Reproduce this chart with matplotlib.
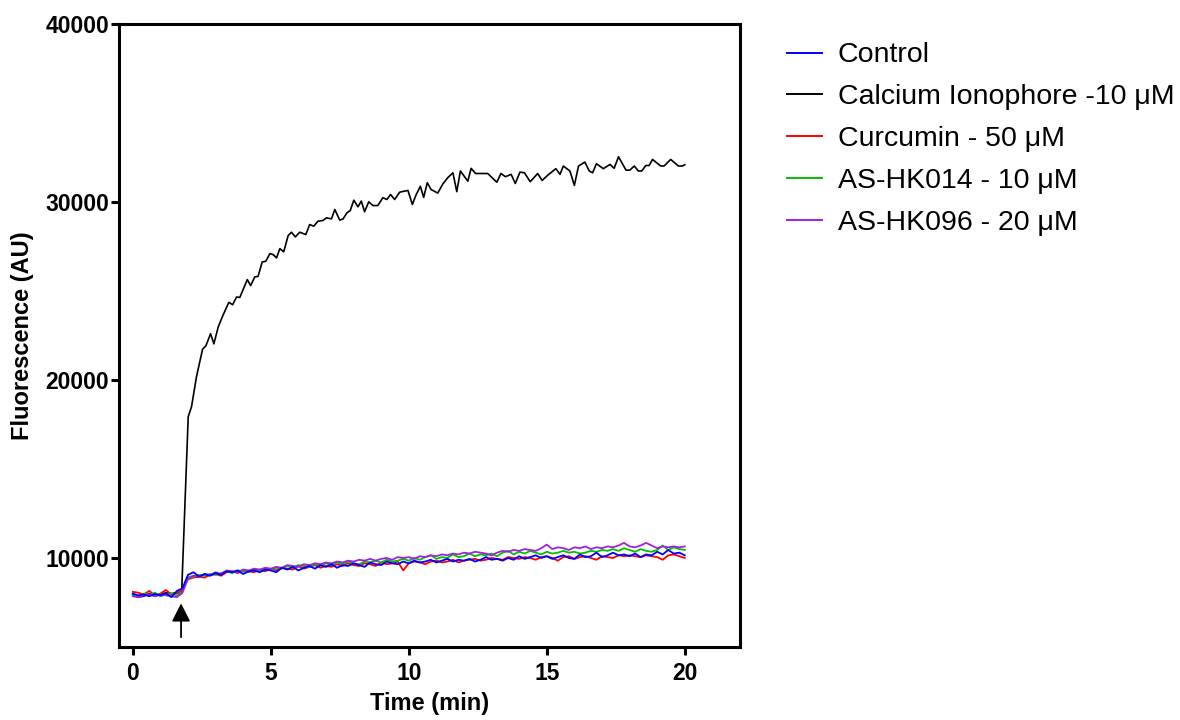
import numpy as np
import matplotlib
matplotlib.use("Agg")
import matplotlib.pyplot as plt
from matplotlib.lines import Line2D

plt.rcParams["font.family"] = ["Liberation Sans", "DejaVu Sans"]

# sampling times (min) of the four low-response traces
TIME = np.linspace(0, 20, 101)

CONTROL = [
    8000, 7900, 7950, 7850, 7980, 7900, 8020, 7800, 8150, 8300,
    9050, 9200, 8950, 9100, 9000, 9150, 9050, 9250, 9200, 9300,
    9100, 9250, 9300, 9200, 9350, 9300, 9200, 9450, 9350, 9500,
    9300, 9450, 9550, 9400, 9600, 9500, 9650, 9450, 9600, 9550,
    9700, 9600, 9500, 9750, 9650, 9600, 9800, 9700, 9650, 9800,
    9700, 9850, 9750, 9800, 9900, 9750, 9850, 9950, 9800, 9900,
    9850, 9950, 9800, 9900, 10050, 9900, 9950, 9850, 10000, 9900,
    10100, 9950, 10050, 10150, 10000, 10100, 9950, 10050, 10150, 10000,
    9950, 10200, 10050, 10100, 10300, 10050, 10150, 10300, 10150, 10200,
    10100, 10250, 10050, 10200, 10150, 10350, 10200, 10450, 10250, 10300,
    10150,
]
CURCUMIN = [
    8100, 8050, 7950, 8150, 7900, 8000, 8200, 7950, 8050, 8200,
    8800, 8900, 8950, 8900, 9050, 9100, 9000, 9200, 9250, 9150,
    9300, 9250, 9200, 9350, 9250, 9400, 9300, 9450, 9400, 9350,
    9550, 9400, 9500, 9600, 9450, 9550, 9500, 9650, 9550, 9700,
    9600, 9550, 9700, 9650, 9550, 9750, 9650, 9700, 9800, 9300,
    9700, 9800, 9750, 9650, 9800, 9850, 9750, 9800, 9900, 9750,
    9850, 9900, 9950, 9850, 9900, 10000, 9950, 9900, 10050, 10000,
    9950, 10050, 10000, 9900, 10050, 10100, 10000, 9850, 10050, 10100,
    9950, 10050, 10100, 10000, 9900, 10100, 10050, 10000, 10150, 10100,
    10150, 10100, 10050, 10150, 10100, 10050, 9900, 10150, 10200, 10100,
    10000,
]
HK014 = [
    7950, 7850, 8000, 7900, 8050, 7850, 7950, 8000, 7900, 8100,
    8850, 8950, 9050, 9000, 9100, 9050, 9150, 9250, 9150, 9300,
    9250, 9200, 9350, 9300, 9400, 9350, 9450, 9400, 9550, 9450,
    9600, 9550, 9500, 9650, 9550, 9700, 9600, 9750, 9650, 9800,
    9700, 9650, 9800, 9750, 9850, 9750, 9900, 9800, 9850, 9950,
    9850, 10000, 9900, 10050, 10150, 9950, 10050, 10000, 10200, 10050,
    10100, 10250, 10100, 10200, 10150, 10250, 10100, 10300, 10400, 10200,
    10350, 10250, 10400, 10300, 10200, 10350, 10250, 10300, 10400, 10300,
    10350, 10250, 10300, 10400, 10350, 10450, 10400, 10500, 10400, 10550,
    10450, 10350, 10500, 10400, 10350, 10450, 10700, 10450, 10600, 10500,
    10450,
]
HK096 = [
    7850, 7800, 7900, 7950, 7850, 7950, 7900, 7850, 7800, 8050,
    8900, 9000, 8950, 9100, 9050, 9200, 9100, 9300, 9250, 9200,
    9350, 9300, 9400, 9350, 9450, 9400, 9500, 9450, 9600, 9550,
    9500, 9650, 9600, 9700, 9650, 9750, 9700, 9800, 9750, 9850,
    9800, 9900, 9850, 9950, 9850, 9950, 10000, 9900, 10050, 10000,
    10050, 9950, 10100, 10050, 10150, 10100, 10200, 10150, 10250, 10200,
    10300, 10250, 10350, 10300, 10250, 10150, 10300, 10400, 10350, 10450,
    10400, 10500, 10450, 10400, 10550, 10750, 10500, 10600, 10550, 10450,
    10600, 10550, 10650, 10500, 10600, 10550, 10650, 10600, 10700, 10850,
    10650, 10600, 10700, 10850, 10700, 10550, 10650, 10600, 10650, 10600,
    10650,
]

# calcium ionophore trace, vertices
IONO_TIME = [
    0, 0.2, 0.4, 0.6, 0.8, 1.0, 1.2, 1.4, 1.6, 1.77,
    2.01, 2.13, 2.31, 2.53, 2.65, 2.82, 2.94, 3.10, 3.28, 3.48,
    3.62, 3.76, 3.88, 4.15, 4.27, 4.42, 4.54, 4.69, 4.82, 4.97,
    5.09, 5.21, 5.33, 5.47, 5.63, 5.75, 5.89, 6.05, 6.27, 6.41,
    6.56, 6.71, 6.89, 7.02, 7.20, 7.32, 7.50, 7.62, 7.76, 7.88,
    8.01, 8.16, 8.28, 8.40, 8.55, 8.70, 8.88, 9.06, 9.21, 9.34,
    9.49, 9.67, 9.97, 10.13, 10.27, 10.42, 10.54, 10.67, 10.81, 11.05,
    11.23, 11.41, 11.60, 11.74, 11.87, 12.14, 12.26, 12.42, 12.86, 13.19,
    13.34, 13.50, 13.71, 13.86, 14.03, 14.19, 14.40, 14.67, 14.83, 15.07,
    15.33, 15.48, 15.60, 15.84, 16.00, 16.15, 16.38, 16.54, 16.66, 16.80,
    17.05, 17.29, 17.44, 17.60, 17.87, 18.01, 18.17, 18.32, 18.44, 18.59,
    18.71, 18.83, 19.13, 19.25, 19.49, 19.77, 19.91, 20.0,
]
IONO = [
    7950, 7800, 7850, 8000, 7850, 7950, 8050, 8000, 8050, 8000,
    17940, 18500, 20190, 21730, 21920, 22600, 22030, 23000, 23670, 24360,
    24230, 24660, 24640, 25640, 25300, 25790, 25820, 26630, 26670, 27100,
    27040, 26860, 27380, 27200, 28110, 28300, 28040, 28300, 28170, 28730,
    28640, 28920, 28960, 29110, 29050, 29580, 28980, 29050, 29390, 29520,
    30100, 29730, 30050, 29450, 30010, 29800, 29800, 30240, 30140, 30420,
    30140, 30550, 30650, 29860, 30420, 30880, 30260, 31080, 30700, 30500,
    31000, 31360, 31640, 30580, 31740, 31170, 31890, 31600, 31600, 31110,
    31600, 31420, 31550, 31040, 31680, 31640, 31140, 31600, 31210, 31550,
    31870, 31550, 32020, 31740, 30930, 32020, 32240, 31740, 31640, 32150,
    31870, 32110, 31890, 32540, 31790, 31790, 32020, 31740, 31740, 32050,
    32050, 32390, 32020, 32020, 32390, 32020, 32020, 32090,
]

LABELS = ["Control", "Calcium Ionophore -10 \u03bcM", "Curcumin - 50 \u03bcM",
          "AS-HK014 - 10 \u03bcM", "AS-HK096 - 20 \u03bcM"]
COLORS = ["#0000FF", "#000000", "#FF0000", "#00C000", "#A020E0"]
ADDITION_TIME = 1.75

fig = plt.figure(figsize=(11.8, 7.2), dpi=100)
ax = fig.add_axes([0.1008, 0.1014, 0.5263, 0.8653])

ax.plot(IONO_TIME, IONO, color=COLORS[1], lw=1.2, zorder=2)
ax.plot(TIME, CURCUMIN, color=COLORS[2], lw=1.3, zorder=3)
ax.plot(TIME, HK014, color=COLORS[3], lw=1.3, zorder=4)
ax.plot(TIME, HK096, color=COLORS[4], lw=1.3, zorder=5)
ax.plot(TIME, CONTROL, color=COLORS[0], lw=1.3, zorder=6)

ax.annotate("", xy=(ADDITION_TIME, 7450), xytext=(ADDITION_TIME, 5550),
            arrowprops=dict(arrowstyle="-|>,head_length=0.55,head_width=0.28",
                            mutation_scale=20, lw=1.3, color="black",
                            shrinkA=0, shrinkB=0))

ax.set_xlim(-0.5, 22)
ax.set_ylim(5000, 40000)
ax.set_xticks([0, 5, 10, 15, 20])
ax.set_yticks([10000, 20000, 30000, 40000])
for s in ax.spines.values():
    s.set_linewidth(2.2)
ax.tick_params(direction="out", length=6, width=2.2, labelsize=16.5)
ax.tick_params(axis="x", pad=5)
ax.tick_params(axis="y", pad=1)
for lab in ax.get_xticklabels() + ax.get_yticklabels():
    lab.set_fontweight("bold")

ax.set_xlabel("Time (min)", fontsize=17, fontweight="bold", labelpad=5)
ax.set_ylabel("Fluorescence (AU)", fontsize=17, fontweight="bold", labelpad=8)

handles = [Line2D([], [], color=c, lw=1.4) for c in COLORS]
fig.legend(handles, LABELS, loc="upper left", bbox_to_anchor=(0.667, 0.941),
           frameon=False, fontsize=20.5, handlelength=1.22, handletextpad=0.56,
           labelspacing=0.56, borderaxespad=0, borderpad=0)

fig.savefig("out.png", dpi=100)
